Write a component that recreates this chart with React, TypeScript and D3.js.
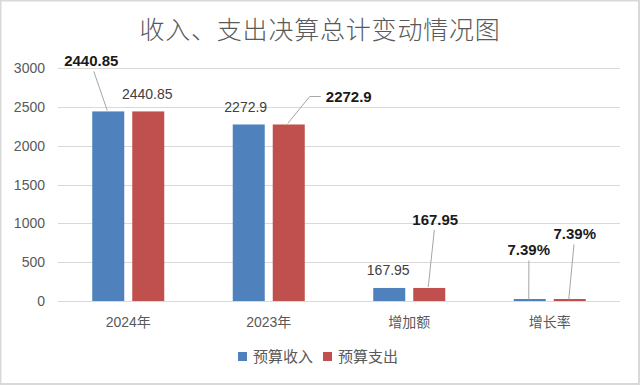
import React from "react";
import * as d3 from "d3";

const categories = ["2024年", "2023年", "增加额", "增长率"];
const seriesNames = ["预算收入", "预算支出"];
const incomeValues = [2440.85, 2272.9, 167.95, 7.39];
const expenseValues = [2440.85, 2272.9, 167.95, 7.39];
const incomeLabels = ["2440.85", "2272.9", "167.95", "7.39%"];
const expenseLabels = ["2440.85", "2272.9", "167.95", "7.39%"];
const yTicks = [0, 500, 1000, 1500, 2000, 2500, 3000];

const W = 640;
const H = 385;
const M = { left: 58, right: 20, top: 68, bottom: 84 };
const colors = ["#4F81BD", "#C0504D"];
const FONT = "'Liberation Sans', Arial, 'Noto Sans CJK SC', sans-serif";

// label placement relative to bar top center: [dx, dy, leader?]
const labelLayout: [number, number, boolean][][] = [
  [
    [-17, -45, true],
    [-1, -12, false],
  ],
  [
    [-3, -12, false],
    [60, -22, true],
  ],
  [
    [-1, -13, false],
    [6, -63, true],
  ],
  [
    [-1, -45, true],
    [5, -61, true],
  ],
];

export default function App() {
  const x0 = d3
    .scaleBand<string>()
    .domain(categories)
    .range([M.left, W - M.right]);
  const x1 = d3
    .scaleBand<number>()
    .domain([0, 1])
    .range([0, x0.bandwidth()])
    .paddingInner(0.2)
    .paddingOuter(0.856);
  const y = d3
    .scaleLinear()
    .domain([0, 3000])
    .range([H - M.bottom, M.top]);

  const series = [incomeValues, expenseValues];
  const labels = [incomeLabels, expenseLabels];

  const bars: React.ReactNode[] = [];
  const texts: React.ReactNode[] = [];
  categories.forEach((c, ci) => {
    series.forEach((vals, si) => {
      const v = vals[ci];
      const bx = (x0(c) as number) + (x1(si) as number);
      const bw = x1.bandwidth();
      const top = y(v);
      const h = Math.max(y(0) - top, 2);
      bars.push(
        <rect
          key={`b${ci}-${si}`}
          x={bx}
          y={y(0) - h}
          width={bw}
          height={h}
          fill={colors[si]}
        />
      );
      const cx = bx + bw / 2;
      const [dx, dy, leader] = labelLayout[ci][si];
      const tx = cx + dx;
      const ty = top + dy;
      if (leader) {
        if (dx > 30) {
          texts.push(
            <polyline
              key={`l${ci}-${si}`}
              points={`${cx - 1},${top - 1} ${tx - 39},${ty - 6} ${tx - 28},${ty - 6}`}
              fill="none"
              stroke="#A6A6A6"
              strokeWidth={1}
            />
          );
        } else {
          texts.push(
            <line
              key={`l${ci}-${si}`}
              x1={cx - 1}
              y1={top - 1}
              x2={tx + (cx - tx) * 0.15}
              y2={ty + 5}
              stroke="#A6A6A6"
              strokeWidth={1}
            />
          );
        }
      }
      texts.push(
        <text
          key={`t${ci}-${si}`}
          x={tx}
          y={ty}
          textAnchor="middle"
          fontSize={leader ? 15 : 14}
          fontWeight={leader ? 600 : 400}
          fill={leader ? "#1a1a1a" : "#404040"}
          fontFamily={FONT}
        >
          {labels[si][ci]}
        </text>
      );
    });
  });

  return (
    <svg
      width={W}
      height={H}
      style={{ position: "absolute", left: 0, top: 0, background: "#fff" }}
    >
      <rect x={0.5} y={0.5} width={W - 1.5} height={H - 1.5} fill="#fff" stroke="#D9D9D9" strokeWidth={2} />
      <text
        x={W / 2}
        y={39}
        textAnchor="middle"
        fontSize={25}
        fontWeight={200}
        fill="#595959"
        fontFamily="'Noto Sans CJK SC', sans-serif"
        letterSpacing={0.8}
      >
        收入、支出决算总计变动情况图
      </text>
      {yTicks.map((t) => (
        <g key={t}>
          <line
            x1={M.left}
            x2={W - M.right}
            y1={Math.round(y(t)) + 0.5}
            y2={Math.round(y(t)) + 0.5}
            stroke="#D9D9D9"
            strokeWidth={1}
          />
          <text
            x={45}
            y={y(t) + 5}
            textAnchor="end"
            fontSize={14}
            fill="#595959"
            fontFamily={FONT}
          >
            {t}
          </text>
        </g>
      ))}
      {bars}
      {categories.map((c) => (
        <text
          key={c}
          x={(x0(c) as number) + x0.bandwidth() / 2}
          y={y(0) + 26}
          textAnchor="middle"
          fontSize={14}
          fill="#595959"
          fontFamily={FONT}
        >
          {c}
        </text>
      ))}
      {texts}
      {seriesNames.map((n, i) => (
        <g key={n} transform={`translate(${238 + i * 85},352)`}>
          <rect x={0} y={0} width={9} height={9} fill={colors[i]} />
          <text x={15} y={10} fontSize={15} fill="#595959" fontFamily="'Noto Sans CJK SC', sans-serif">
            {n}
          </text>
        </g>
      ))}
    </svg>
  );
}
